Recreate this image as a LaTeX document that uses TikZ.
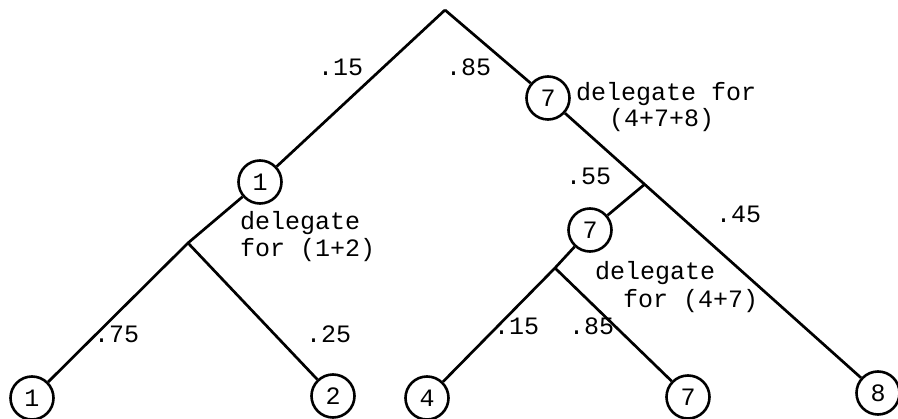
\documentclass[tikz,border=0pt]{standalone}
\usepackage{fontspec}
\newfontfamily\tw{Liberation Mono}
\begin{document}
\begin{tikzpicture}[x=1pt,y=-1pt,
  every node/.style={font=\tw\fontsize{25}{29}\selectfont},
  leaf/.style={circle,draw,line width=2.6pt,minimum size=43pt,inner sep=0pt},
  edge/.style={line width=2.7pt,line join=round},
  prob/.style={anchor=base west,inner sep=0pt},
  note/.style={anchor=base west,inner sep=0pt}]
\useasboundingbox (0,0) rectangle (898,419);

% tree skeleton
\coordinate (root) at (445,10);
\node[leaf] (d7)  at (548,98)  {7};
\node[leaf] (d1)  at (260,182) {1};
\coordinate (j1) at (188,243);
\node[leaf] (l1)  at (32,398)  {1};
\node[leaf] (l2)  at (333,396) {2};
\coordinate (j2) at (645,184);
\node[leaf] (d7b) at (590,230) {7};
\coordinate (j3) at (555,268);
\node[leaf] (l4)  at (427,398) {4};
\node[leaf] (l7)  at (688,397) {7};
\node[leaf] (l8)  at (878,393) {8};

% branches
\draw[edge] (root) -- (d7) -- (l8);
\draw[edge] (root) -- (d1) -- (j1) -- (l1);
\draw[edge] (j1) -- (l2);
\draw[edge] (j2) -- (d7b) -- (j3) -- (l4);
\draw[edge] (j3) -- (l7);

% branch probabilities
\node[prob] (p15a) at (318,76)  {.15};
\node[prob] (p85a) at (446,76)  {.85};
\node[prob] (p55)  at (566,185) {.55};
\node[prob] (p45)  at (716,223) {.45};
\node[prob] (p75)  at (94,343)  {.75};
\node[prob] (p25)  at (306,343) {.25};
\node[prob] (p15b) at (494,335) {.15};
\node[prob] (p85b) at (569,335) {.85};

% delegate notes
\node[note] (n1a) at (576,101) {delegate for};
\node[note] (n1b) at (609,127) {(4+7+8)};
\node[note] (n2a) at (240,230) {delegate};
\node[note] (n2b) at (240,257) {for (1+2)};
\node[note] (n3a) at (595,280) {delegate};
\node[note] (n3b) at (623,308) {for (4+7)};
\end{tikzpicture}
\end{document}
